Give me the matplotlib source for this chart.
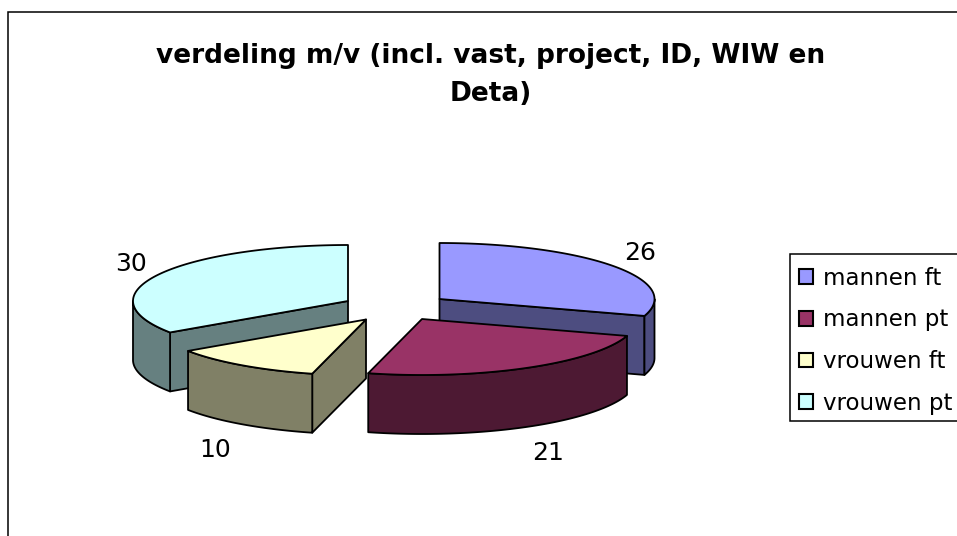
import numpy as np
import matplotlib
matplotlib.use("Agg")
import matplotlib.pyplot as plt
from matplotlib.patches import Polygon, Patch

# data
categories = ["mannen ft", "mannen pt", "vrouwen ft", "vrouwen pt"]
values = [26, 21, 10, 30]
title = "verdeling m/v (incl. vast, project, ID, WIW en\nDeta)"

# style
top_colors = ["#9999FF", "#993366", "#FFFFCC", "#CCFFFF"]
side_colors = ["#4D4D80", "#4D1933", "#808066", "#668080"]
apex = [(439.5, 299), (422, 319), (366, 319.5), (348, 301)]
label_pos = [(640, 253), (548, 453), (215, 450), (131, 264)]
RX, RY, DEPTH = 215, 56, 59
draw_order = [3, 0, 2, 1]
FS = 16.5

fig = plt.figure(figsize=(9.57, 5.36), dpi=100)
ax = fig.add_axes([0, 0, 1, 1])
ax.set_xlim(0, 957)
ax.set_ylim(536, 0)
ax.axis("off")

# outer chart frame
ax.add_patch(plt.Rectangle((7.5, 11.5), 1000, 1000, fc="white", ec="black", lw=1.1, zorder=0))

fractions = np.array(values, dtype=float) / sum(values)
ends = np.cumsum(fractions) * 2 * np.pi
starts = np.concatenate([[0.0], ends[:-1]])


def rim(cx, cy, t):
    return np.column_stack([cx + RX * np.sin(t), cy - RY * np.cos(t)])


z = 2
for i in draw_order:
    cx, cy = apex[i]
    a, b = starts[i], ends[i]
    arc = rim(cx, cy, np.linspace(a, b, 160))
    kw = dict(ec="black", lw=1.3, joinstyle="round")
    down = np.array([0, DEPTH])
    # cut faces that look toward the viewer
    for ang, pt in ((a, arc[0]), (b, arc[-1])):
        facing = -np.sin(ang) if ang == a else np.sin(ang)
        if facing > 1e-6:
            c = np.array([cx, cy])
            ax.add_patch(Polygon([c, pt, pt + down, c + down], closed=True,
                                 fc=side_colors[i], zorder=z, **kw))
            z += 1
    # outer wall (front half only)
    lo, hi = max(a, np.pi / 2), min(b, 3 * np.pi / 2)
    if hi > lo:
        front = rim(cx, cy, np.linspace(lo, hi, 120))
        ax.add_patch(Polygon(np.vstack([front, (front + down)[::-1]]), closed=True,
                             fc=side_colors[i], zorder=z, **kw))
        z += 1
    ax.add_patch(Polygon(np.vstack([[cx, cy], arc]), closed=True,
                         fc=top_colors[i], zorder=z, **kw))
    z += 1

for v, (x, y) in zip(values, label_pos):
    ax.text(x, y, str(v), ha="center", va="center", fontsize=18, color="black", zorder=50)

ax.text(491, 75, title, ha="center", va="center", fontsize=19, fontweight="bold",
        linespacing=1.6, color="black", zorder=50)

# legend frame runs off the right edge of the picture
ax.add_patch(plt.Rectangle((789.5, 254), 200, 167, fc="white", ec="black", lw=1.1, zorder=59))
handles = [Patch(fc=c, ec="black", lw=1.5) for c in top_colors]
leg = ax.legend(handles, categories, loc="upper left", bbox_to_anchor=(789.5, 257),
                bbox_transform=ax.transData, borderaxespad=0, fontsize=FS, frameon=False,
                handlelength=0.61, handleheight=0.61, handletextpad=0.42,
                borderpad=0.42, labelspacing=0.816)
leg.set_zorder(60)

fig.savefig("out.png", dpi=100)
